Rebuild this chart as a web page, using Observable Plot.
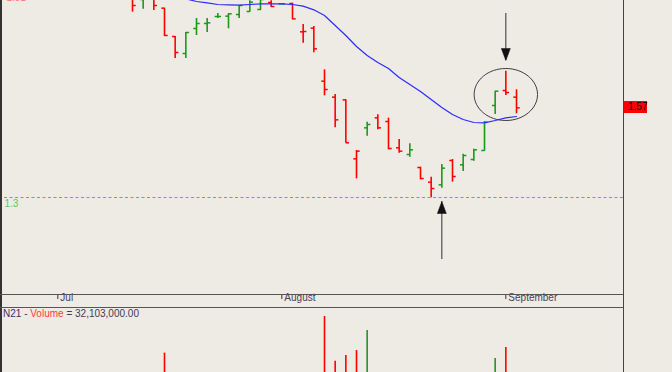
<!DOCTYPE html>
<html><head><meta charset="utf-8">
<script src="https://cdn.jsdelivr.net/npm/d3@7"></script>
<script src="https://cdn.jsdelivr.net/npm/@observablehq/plot@0.6"></script>
<style>
html,body{margin:0;padding:0;background:#eeeae4;overflow:hidden;}
#wrap{position:relative;width:672px;height:372px;overflow:hidden;background:#eeeae4;font-family:"Liberation Sans",Arial,sans-serif;}
.abs{position:absolute;}
</style></head><body><div id="wrap"></div>
<script>
// ---- data (trading-day index, prices) ----
const barIndex = [0,1,2,3,4,5,6,7,8,9,10,11,12,13,14,15,16,17,18,19,20,21,22,23,24,25,26,27,28,29,30,31,32,33,34,35,36];
const opens  = [1.900,1.894,1.897,1.868,1.783,1.732,1.807,1.822,1.843,1.844,1.849,1.858,1.864,1.885,1.881,1.882,1.797,1.808,1.649,1.601,1.593,1.416,1.509,1.539,1.528,1.449,1.429,1.390,1.346,1.338,1.411,1.398,1.414,1.441,1.576,1.621,1.601];
const highs  = [1.906,1.915,1.909,1.868,1.783,1.795,1.837,1.837,1.852,1.852,1.876,1.890,1.897,1.890,1.882,1.883,1.819,1.813,1.683,1.609,1.593,1.441,1.526,1.548,1.538,1.474,1.461,1.391,1.361,1.399,1.414,1.430,1.445,1.528,1.619,1.679,1.623];
const lows   = [1.856,1.865,1.861,1.783,1.717,1.717,1.786,1.795,1.837,1.806,1.837,1.856,1.861,1.870,1.879,1.833,1.763,1.734,1.605,1.509,1.463,1.356,1.484,1.503,1.443,1.433,1.421,1.353,1.299,1.328,1.346,1.378,1.409,1.439,1.549,1.606,1.551];
const closes = [1.876,1.903,1.876,1.786,1.735,1.795,1.822,1.824,1.843,1.851,1.876,1.886,1.894,1.873,1.881,1.836,1.798,1.746,1.624,1.533,1.464,1.439,1.519,1.509,1.447,1.439,1.443,1.357,1.327,1.388,1.363,1.426,1.443,1.526,1.619,1.615,1.569];
const volumes = [22000000,18000000,25000000,56100000,38000000,30000000,21000000,14000000,11000000,16000000,19000000,24000000,17000000,20000000,9000000,27000000,33000000,36000000,86700000,49400000,54200000,58300000,75000000,29000000,37000000,26000000,22000000,31000000,38000000,35000000,28000000,24000000,30000000,38000000,51700000,60800000,32103000];
const maIndex  = [4,5,6,7,8,9,10,11,12,13,14,15,16,17,18,19,20,21,22,23,24,25,26,27,28,29,30,31,32,33,34,35,36];
const maValues = [1.906,1.896,1.888,1.884,1.879,1.878,1.877,1.879,1.881,1.881,1.881,1.879,1.874,1.863,1.846,1.816,1.786,1.753,1.726,1.705,1.687,1.660,1.639,1.618,1.594,1.570,1.549,1.534,1.525,1.524,1.531,1.539,1.543];
const monthStarts = [-7, 14, 35];
const monthLabels = ["Jul", "August", "September"];
const supportLevel = 1.3;
const topLevelLabel = "1.91";
const topLevel = 1.91;
const arrowBars  = [35, 29];
const arrowTails = [1.852, 1.114];
const arrowTips  = [1.711, 1.288];
const circleBar = 35, circlePrice = 1.609;
const symbolName = "N21";

// ---- build ----
const UP = "#1a9a1a", DOWN = "#ff0000";
const bars = barIndex.map((k, i) => ({
  k, o: opens[i], h: highs[i], l: lows[i], c: closes[i], v: volumes[i],
  up: i === 0 ? closes[i] >= opens[i] : closes[i] >= closes[i - 1]
}));
const col = d => d.up ? UP : DOWN;
const ma = maIndex.map((k, i) => ({k, v: maValues[i]}));
const arrows = arrowBars.map((k, i) => ({k, from: arrowTails[i], to: arrowTips[i]}));
const downArrows = arrows.filter(d => d.to < d.from);
const upArrows = arrows.filter(d => d.to > d.from);

const headDown = {draw(ctx) { ctx.moveTo(0, 0); ctx.lineTo(-4.5, -12); ctx.lineTo(4.5, -12); ctx.closePath(); }};
const headUp = {draw(ctx) { ctx.moveTo(0, 0); ctx.lineTo(-4.5, 12); ctx.lineTo(4.5, 12); ctx.closePath(); }};
const ellipseSym = {draw(ctx) {
  const rx = 31.7, ry = 26, q = 0.5523;
  ctx.moveTo(rx, 0);
  ctx.bezierCurveTo(rx, ry * q, rx * q, ry, 0, ry);
  ctx.bezierCurveTo(-rx * q, ry, -rx, ry * q, -rx, 0);
  ctx.bezierCurveTo(-rx, -ry * q, -rx * q, -ry, 0, -ry);
  ctx.bezierCurveTo(rx * q, -ry, rx, -ry * q, rx, 0);
  ctx.closePath();
}};

const xDomain = [-12.375, 46.031];
const font = '"Liberation Sans", Arial, sans-serif';

const price = Plot.plot({
  width: 672, height: 307,
  marginTop: 0, marginBottom: 13, marginLeft: 0, marginRight: 49,
  style: {background: "transparent", overflow: "hidden", fontFamily: font, fontSize: "10px", color: "#333"},
  x: {domain: xDomain, ticks: monthStarts, tickSize: 5, tickFormat: () => "", label: null},
  y: {domain: [1.009, 1.891], axis: null},
  marks: [
    Plot.ruleY([supportLevel], {stroke: "#4cc44c", strokeDasharray: "3,2.5", strokeWidth: 1.1, insetLeft: 4}),
    Plot.text([supportLevel], {y: d => d, text: d => String(d), frameAnchor: "left", dx: 4, dy: 6, textAnchor: "start", fill: "#5cc85c", fontSize: 10}),
    Plot.text([topLevel], {y: d => d, text: () => topLevelLabel, frameAnchor: "left", dx: 6, dy: 4, textAnchor: "start", fill: "#ff7070", fontSize: 10}),
    Plot.text(monthStarts, {x: d => d, text: (d, i) => monthLabels[i], frameAnchor: "bottom", dx: 2.5, dy: 6, textAnchor: "start", fill: "#4a4060", fontSize: 10}),
    Plot.ruleX(bars, {x: "k", y1: "l", y2: "h", stroke: col, strokeWidth: 1.6}),
    Plot.link(bars, {x1: d => d.k - 0.3, x2: "k", y1: "o", y2: "o", stroke: col, strokeWidth: 1.5}),
    Plot.link(bars, {x1: "k", x2: d => d.k + 0.3, y1: "c", y2: "c", stroke: col, strokeWidth: 1.5}),
    Plot.line(ma, {x: "k", y: "v", stroke: "#2b2bff", strokeWidth: 1.2}),
    Plot.ruleX(arrows, {x: "k", y1: "from", y2: "to", stroke: "#333", strokeWidth: 1}),
    Plot.dot(downArrows, {x: "k", y: "to", symbol: headDown, r: 4, fill: "#111", stroke: "#111", strokeWidth: 0.5}),
    Plot.dot(upArrows, {x: "k", y: "to", symbol: headUp, r: 4, fill: "#111", stroke: "#111", strokeWidth: 0.5}),
    Plot.dot([{k: circleBar, p: circlePrice}], {x: "k", y: "p", symbol: ellipseSym, r: 5, fill: "none", stroke: "#3d3d3d", strokeWidth: 1})
  ]
});

const vol = Plot.plot({
  width: 672, height: 120,
  marginTop: 0, marginBottom: 0, marginLeft: 0, marginRight: 49,
  style: {background: "transparent", overflow: "hidden"},
  x: {domain: xDomain, axis: null},
  y: {domain: [0, 100e6], range: [113, -7], axis: null},
  marks: [
    Plot.ruleX(bars, {x: "k", y1: 0, y2: "v", stroke: col, strokeWidth: 1.6})
  ]
});

const wrap = document.getElementById("wrap");
price.style.position = "absolute"; price.style.left = "0px"; price.style.top = "0px";
vol.style.position = "absolute"; vol.style.left = "0px"; vol.style.top = "307px";
wrap.appendChild(price);
wrap.appendChild(vol);

function line(css) { const d = document.createElement("div"); d.className = "abs"; Object.assign(d.style, css); wrap.appendChild(d); }
line({left: "0px", top: "0px", width: "1.5px", height: "372px", background: "#333"});
line({left: "623px", top: "0px", width: "1.2px", height: "372px", background: "#444"});
line({left: "0px", top: "294px", width: "623px", height: "1px", background: "#555"});
line({left: "0px", top: "307px", width: "623px", height: "1px", background: "#555"});

// last price box
const last = bars[bars.length - 1];
const yPx = price.scale("y").apply(last.c);
const box = document.createElement("div");
box.className = "abs";
Object.assign(box.style, {left: "624px", top: (yPx - 6) + "px", width: "23px", height: "12px", background: "#ff0000",
  color: "#140505", fontSize: "10px", lineHeight: "12px", paddingLeft: "4px", boxSizing: "border-box"});
box.textContent = d3.format(".2f")(last.c);
wrap.appendChild(box);

// volume label
const lab = document.createElement("div");
lab.className = "abs";
Object.assign(lab.style, {left: "3px", top: "307px", fontSize: "10px", lineHeight: "13px", color: "#403c58", whiteSpace: "pre"});
lab.innerHTML = `<span style="color:#3a3066">${symbolName}</span> - <span style="color:#ff3b3b">Volume</span> = ${d3.format(",.2f")(last.v)}`;
wrap.appendChild(lab);
</script>
</body></html>
